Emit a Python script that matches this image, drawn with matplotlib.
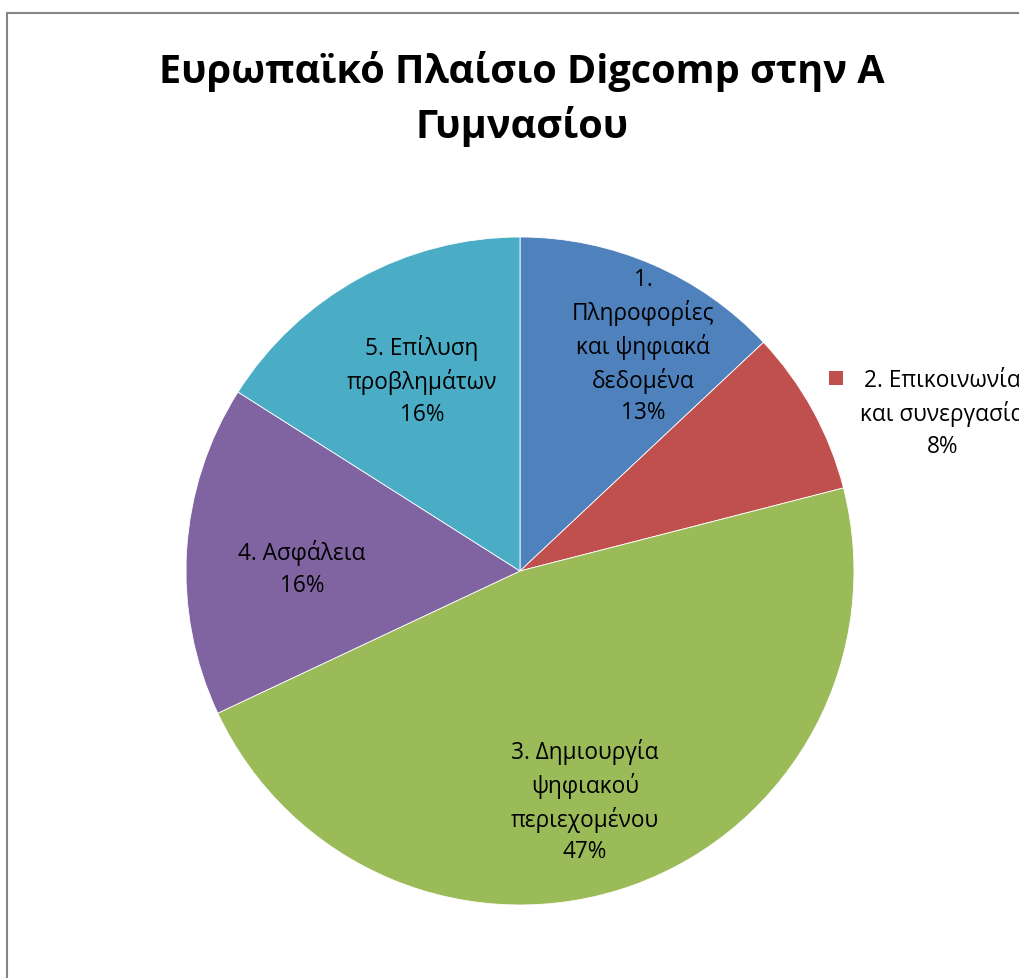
import matplotlib
matplotlib.use("Agg")
import matplotlib.pyplot as plt
from matplotlib.patches import Rectangle

# shares of each competence area (percent)
areas = ["1.\nΠληροφορίες\nκαι ψηφιακά\nδεδομένα",
         "2. Επικοινωνία\nκαι συνεργασία",
         "3. Δημιουργία\nψηφιακού\nπεριεχομένου",
         "4. Ασφάλεια",
         "5. Επίλυση\nπροβλημάτων"]
shares = [13, 8, 47, 16, 16]
colors = ["#4F81BD", "#C0504D", "#9BBB59", "#8064A2", "#4BACC6"]

font = ["Open Sans", "DejaVu Sans"]
plt.rcParams["font.family"] = font

W, H = 1020, 979
fig = plt.figure(figsize=(W / 100, H / 100), dpi=100)

# grey frame of the chart area
fig.patches.append(Rectangle((7 / W, -0.1), 1.2, 1 - 14 / H + 0.1, transform=fig.transFigure,
                             fill=False, edgecolor="#868686", linewidth=1.5))

cx, cy, r = 520, 572, 334
ax = fig.add_axes([(cx - r) / W, (H - cy - r) / H, 2 * r / W, 2 * r / H])
wedges, _ = ax.pie(shares, colors=colors, startangle=90, counterclock=False,
                   wedgeprops=dict(edgecolor="white", linewidth=0.6))
ax.set_xlim(-1, 1)
ax.set_ylim(-1, 1)
ax.axis("off")

# data labels inside the slices
label_pos = [(0.368, 0.674), None, (0.195, -0.686), (-0.653, 0.009), (-0.293, 0.572)]
for i, pos in enumerate(label_pos):
    if pos is None:
        continue
    ax.text(pos[0], pos[1], f"{areas[i]}\n{shares[i]}%", ha="center", va="center",
            fontsize=16.3, linespacing=1.4, color="black")

# slice 2 label sits outside with a legend key
ax.text(1.264, 0.473, f"{areas[1]}\n{shares[1]}%", ha="center", va="center",
        fontsize=16.3, linespacing=1.4, color="black", clip_on=False)
ax.add_patch(Rectangle((0.925, 0.557), 0.042, 0.042, facecolor=colors[1],
                       edgecolor="none", clip_on=False))

fig.text(522 / W, 1 - 99 / H, "Ευρωπαϊκό Πλαίσιο Digcomp στην Α\nΓυμνασίου",
         ha="center", va="center", fontsize=28.5, fontweight="bold", linespacing=1.45)

fig.savefig("out.png", dpi=100)
